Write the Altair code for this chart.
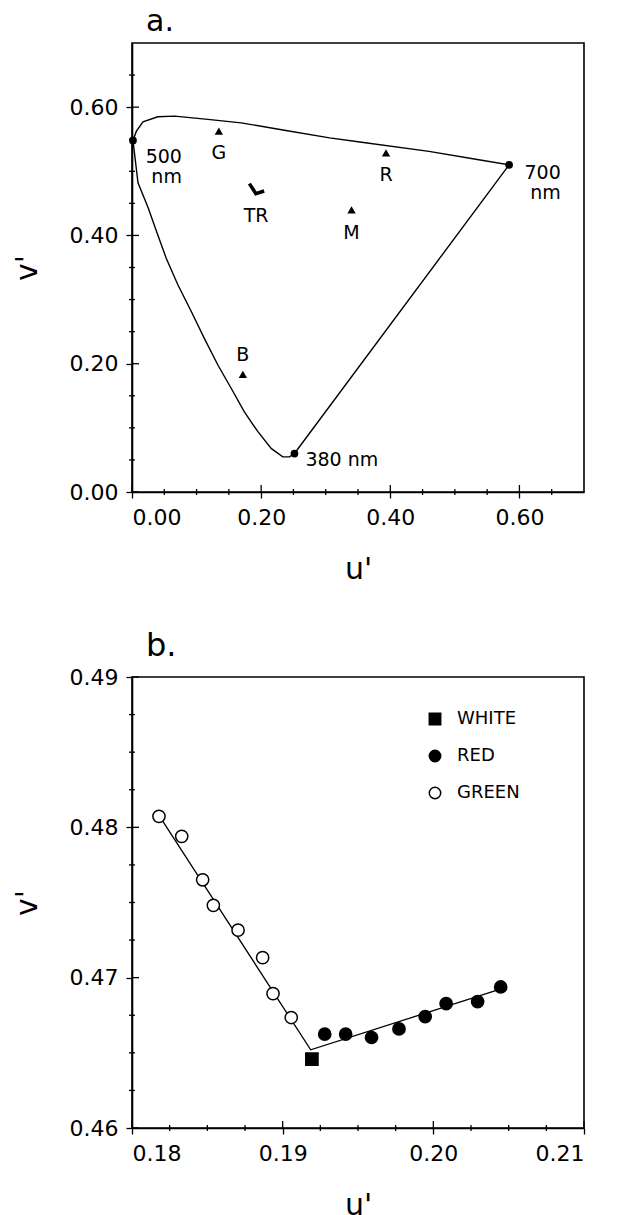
import altair as alt
import pandas as pd

FONT = "DejaVu Sans"
W = 452
HA = 449
HB = 451

# ---------------- panel a: CIE 1976 u'v' diagram ----------------
# spectral locus traced from 380 nm up the left branch to 500 nm, over to 700 nm, back to 380 nm
locus_u = [0.2516, 0.244, 0.2335, 0.2155, 0.195, 0.174, 0.154, 0.133, 0.112, 0.092, 0.071, 0.053,
           0.038, 0.025, 0.0093, 0.0015, 0.0068, 0.017, 0.040, 0.066, 0.1175, 0.169, 0.236,
           0.306, 0.350, 0.460, 0.537, 0.584, 0.2516]
locus_v = [0.060, 0.0547, 0.0547, 0.068, 0.094, 0.125, 0.161, 0.198, 0.2395, 0.281, 0.323, 0.3645,
           0.406, 0.443, 0.482, 0.548, 0.5625, 0.577, 0.585, 0.586, 0.581, 0.5755, 0.564,
           0.552, 0.546, 0.531, 0.518, 0.510, 0.060]

wl_u = [0.2516, 0.0015, 0.584]
wl_v = [0.060, 0.548, 0.510]

prim_names = ["G", "R", "M", "B"]
prim_u = [0.1345, 0.3934, 0.340, 0.1717]
prim_v = [0.5625, 0.5286, 0.440, 0.1833]

lab_c_text = ["G", "R", "M", "TR", "B"]
lab_c_u = [0.1345, 0.3934, 0.340, 0.1923, 0.1717]
lab_c_v = [0.5286, 0.4947, 0.4036, 0.4297, 0.2134]

lab_r_text = ["500\nnm", "700\nnm"]
lab_r_u = [0.0773, 0.664]
lab_r_v = [0.5218, 0.4979]

lab_l_text = ["380 nm"]
lab_l_u = [0.2686]
lab_l_v = [0.0494]

a_major = [0.0, 0.2, 0.4, 0.6]
a_minor = [0.05, 0.10, 0.15, 0.25, 0.30, 0.35, 0.45, 0.50, 0.55, 0.65]

# ---------------- panel b: measured chromaticities ----------------
green_u = [0.18179, 0.18330, 0.18469, 0.18540, 0.18704, 0.18867, 0.18936, 0.19057]
green_v = [0.48073, 0.47940, 0.47651, 0.47481, 0.47316, 0.47133, 0.46894, 0.46735]
white_u = [0.19194]
white_v = [0.46458]
red_u = [0.19279, 0.19418, 0.19590, 0.19772, 0.19946, 0.20085, 0.20294, 0.20447]
red_v = [0.46624, 0.46624, 0.46602, 0.46659, 0.46741, 0.46827, 0.46841, 0.46938]
fit_u = [0.18179, 0.19186, 0.20465]
fit_v = [0.4808, 0.4652, 0.4693]

b_major_u = [0.18, 0.19, 0.20, 0.21]
b_minor_u = [0.1825, 0.185, 0.1875, 0.1925, 0.195, 0.1975, 0.2025, 0.205, 0.2075]
b_major_v = [0.46, 0.47, 0.48, 0.49]
b_minor_v = [0.4625, 0.465, 0.4675, 0.4725, 0.475, 0.4775, 0.4825, 0.485, 0.4875]

series_names = ["WHITE", "RED", "GREEN"]


def make_axis(vals, orient):
    return alt.Axis(values=vals, format=".2f", tickSize=6, tickWidth=1.3, tickColor="black",
                    labelPadding=8 if orient == "y" else 9, grid=False,
                    labelFont=FONT, labelFontSize=22, labelColor="black",
                    titleFont=FONT, titleFontSize=30, titleFontWeight="normal", titleColor="black",
                    domainColor="black", domainWidth=1.6,
                    titlePadding=27 if orient == "y" else 26)


def enc_x(xs, ax):
    return alt.X("u:Q", scale=xs, axis=ax, title="u'")


def enc_y(ys, ay):
    return alt.Y("v:Q", scale=ys, axis=ay, title="v'")


def tick_layers(xmaj, xmin, ymaj, ymin, h, xs, ys, ax, ay):
    out = []
    out.append(alt.Chart(pd.DataFrame({"u": xmaj})).mark_rule(color="black", strokeWidth=1.3).encode(
        x=enc_x(xs, ax), y=alt.value(h - 7), y2=alt.value(h)))
    out.append(alt.Chart(pd.DataFrame({"u": xmin})).mark_rule(color="black", strokeWidth=1.3).encode(
        x=enc_x(xs, ax), y=alt.value(h - 3), y2=alt.value(h + 3)))
    out.append(alt.Chart(pd.DataFrame({"v": ymaj})).mark_rule(color="black", strokeWidth=1.3).encode(
        y=enc_y(ys, ay), x=alt.value(0), x2=alt.value(7)))
    out.append(alt.Chart(pd.DataFrame({"v": ymin})).mark_rule(color="black", strokeWidth=1.3).encode(
        y=enc_y(ys, ay), x=alt.value(-3), x2=alt.value(3)))
    return out


# ---- panel a ----
xs_a = alt.Scale(domain=[0, 0.7], nice=False, zero=False)
ys_a = alt.Scale(domain=[0, 0.7], nice=False, zero=False)
ax_a = make_axis(a_major, "x")
ay_a = make_axis(a_major, "y")

locus_df = pd.DataFrame({"u": locus_u, "v": locus_v, "i": list(range(len(locus_u)))})
locus = alt.Chart(locus_df).mark_line(color="black", strokeWidth=1.4, interpolate="linear").encode(
    x=enc_x(xs_a, ax_a), y=enc_y(ys_a, ay_a), order="i:Q")
wl = alt.Chart(pd.DataFrame({"u": wl_u, "v": wl_v})).mark_circle(color="black", size=60, opacity=1).encode(
    x=enc_x(xs_a, ax_a), y=enc_y(ys_a, ay_a))
prim = alt.Chart(pd.DataFrame({"u": prim_u, "v": prim_v, "n": prim_names})).mark_point(
    shape="triangle-up", filled=True, color="black", size=70, opacity=1).encode(
    x=enc_x(xs_a, ax_a), y=enc_y(ys_a, ay_a))
tr = alt.Chart(pd.DataFrame({"u": fit_u, "v": fit_v, "i": [0, 1, 2]})).mark_line(
    color="black", strokeWidth=3.5).encode(
    x=enc_x(xs_a, ax_a), y=enc_y(ys_a, ay_a), order="i:Q")


def text_layer(us, vs, ts, align):
    return alt.Chart(pd.DataFrame({"u": us, "v": vs, "t": ts})).mark_text(
        font=FONT, fontSize=19, align=align, baseline="middle", color="black",
        lineBreak="\n", lineHeight=20).encode(
        x=enc_x(xs_a, ax_a), y=enc_y(ys_a, ay_a), text="t:N")


panel_a = alt.layer(
    locus, *tick_layers(a_major, a_minor, a_major, a_minor, HA, xs_a, ys_a, ax_a, ay_a),
    tr, wl, prim,
    text_layer(lab_c_u, lab_c_v, lab_c_text, "center"),
    text_layer(lab_r_u, lab_r_v, lab_r_text, "right"),
    text_layer(lab_l_u, lab_l_v, lab_l_text, "left"),
).properties(
    width=W, height=HA,
    title=alt.TitleParams("a.", anchor="start", frame="group", fontSize=30, font=FONT,
                          fontWeight="normal", offset=6, dx=14, color="black"),
)

# ---- panel b ----
xs_b = alt.Scale(domain=[0.18, 0.21], nice=False, zero=False)
ys_b = alt.Scale(domain=[0.46, 0.49], nice=False, zero=False)
ax_b = make_axis(b_major_u, "x")
ay_b = make_axis(b_major_v, "y")

pts_df = pd.concat([
    pd.DataFrame({"u": white_u, "v": white_v, "series": "WHITE"}),
    pd.DataFrame({"u": red_u, "v": red_v, "series": "RED"}),
    pd.DataFrame({"u": green_u, "v": green_v, "series": "GREEN"}),
], ignore_index=True)

fit = alt.Chart(pd.DataFrame({"u": fit_u, "v": fit_v, "i": [0, 1, 2]})).mark_line(
    color="black", strokeWidth=1.3).encode(
    x=enc_x(xs_b, ax_b), y=enc_y(ys_b, ay_b), order="i:Q")

leg = alt.Legend(title=None, orient="none", legendX=294, legendY=33, padding=0, labelFont=FONT,
                 labelFontSize=18, labelColor="black", symbolStrokeColor="black",
                 symbolStrokeWidth=1.5, symbolSize=130, labelOffset=13, rowPadding=19)
pts = alt.Chart(pts_df).mark_point(strokeWidth=1.5, size=150, opacity=1, fillOpacity=1).encode(
    x=enc_x(xs_b, ax_b),
    y=enc_y(ys_b, ay_b),
    shape=alt.Shape("series:N", scale=alt.Scale(domain=series_names, range=["square", "circle", "circle"]),
                    legend=leg),
    fill=alt.Fill("series:N", scale=alt.Scale(domain=series_names, range=["black", "black", "white"]),
                  legend=leg),
    stroke=alt.Stroke("series:N", scale=alt.Scale(domain=series_names, range=["black", "black", "black"]),
                      legend=leg),
)

panel_b = alt.layer(
    fit, *tick_layers(b_major_u, b_minor_u, b_major_v, b_minor_v, HB, xs_b, ys_b, ax_b, ay_b), pts
).properties(
    width=W, height=HB,
    title=alt.TitleParams("b.", anchor="start", frame="group", fontSize=32, font=FONT,
                          fontWeight="normal", offset=3, dx=14, color="black"),
)

chart = alt.vconcat(panel_a, panel_b, spacing=44).resolve_scale(
    shape="independent", fill="independent", stroke="independent"
).properties(
    padding={"left": 3, "top": -2, "right": 0, "bottom": 0},
    background="white",
).configure_view(
    stroke="black", strokeWidth=1.6
)

chart.save("out.html", embed_options={"renderer": "svg", "actions": False})
